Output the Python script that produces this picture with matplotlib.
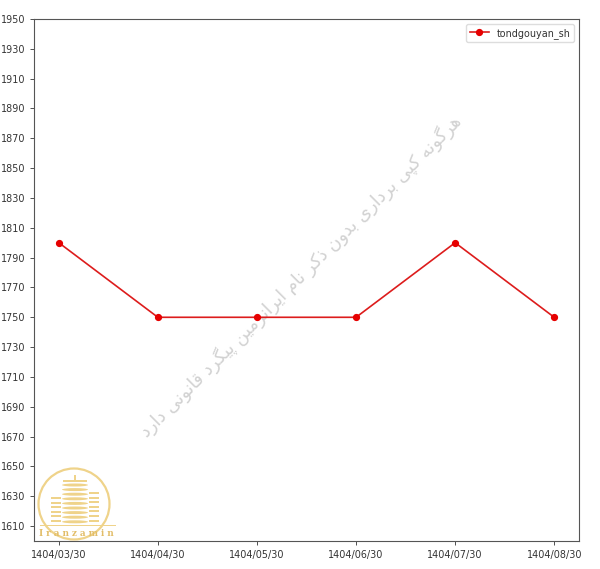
import matplotlib
matplotlib.use("Agg")
import matplotlib.pyplot as plt
from matplotlib.patches import Circle, Rectangle, Ellipse

dates = ["1404/03/30", "1404/04/30", "1404/05/30", "1404/06/30", "1404/07/30", "1404/08/30"]
prices = [1800, 1750, 1750, 1750, 1800, 1750]
series_name = "tondgouyan_sh"
yticks = list(range(1610, 1951, 20))
watermark = "هرگونه کپی برداری بدون ذکر نام ایرانزمین پیگرد قانونی دارد"
logo_text = "Iranzamin"

# minimal Persian shaping (presentation forms) since matplotlib has no shaping
FORMS = {
    "ا": (0xFE8D, 0xFE8E, None, None),
    "ب": (0xFE8F, 0xFE90, 0xFE91, 0xFE92),
    "پ": (0xFB56, 0xFB57, 0xFB58, 0xFB59),
    "د": (0xFEA9, 0xFEAA, None, None),
    "ذ": (0xFEAB, 0xFEAC, None, None),
    "ر": (0xFEAD, 0xFEAE, None, None),
    "ز": (0xFEAF, 0xFEB0, None, None),
    "ق": (0xFED5, 0xFED6, 0xFED7, 0xFED8),
    "ک": (0xFB8E, 0xFB8F, 0xFB90, 0xFB91),
    "گ": (0xFB92, 0xFB93, 0xFB94, 0xFB95),
    "م": (0xFEE1, 0xFEE2, 0xFEE3, 0xFEE4),
    "ن": (0xFEE5, 0xFEE6, 0xFEE7, 0xFEE8),
    "و": (0xFEED, 0xFEEE, None, None),
    "ه": (0xFEE9, 0xFEEA, 0xFEEB, 0xFEEC),
    "ی": (0xFBFC, 0xFBFD, 0xFBFE, 0xFBFF),
}


def dual(c):
    return c in FORMS and FORMS[c][2] is not None


def shape(s):
    out = []
    for i, c in enumerate(s):
        if c not in FORMS:
            out.append(c)
            continue
        prev = s[i - 1] if i > 0 else " "
        nxt = s[i + 1] if i + 1 < len(s) else " "
        cp = dual(prev)
        cn = dual(c) and nxt in FORMS
        iso, fin, ini, med = FORMS[c]
        if cp and cn:
            code = med
        elif cp:
            code = fin
        elif cn:
            code = ini
        else:
            code = iso
        out.append(chr(code))
    return "".join(out)[::-1]


W, H = 600, 569
fig = plt.figure(figsize=(6.0, 5.69), dpi=100)
ax = fig.add_axes([0.0567, 0.0492, 0.9083, 0.9174])

x = list(range(len(dates)))
ax.plot(x, prices, color="#dd1c1c", marker="o", markersize=4.2, markerfacecolor="#e60000",
        markeredgecolor="#e60000", linewidth=1.2, label=series_name)
ax.set_xticks(x)
ax.set_xticklabels(dates)
ax.set_yticks(yticks)
ax.set_ylim(1600, 1950)
ax.tick_params(labelsize=6.9, colors="#333333", length=3, width=0.6)
for sp in ax.spines.values():
    sp.set_color("#555555")
    sp.set_linewidth(0.8)

leg = ax.legend(loc="upper right", fontsize=6.9, frameon=True, framealpha=1, edgecolor="#dddddd",
                fancybox=True, handlelength=2.0)
for t in leg.get_texts():
    t.set_color("#333333")

# watermark
ax.text(0.488, 0.508, shape(watermark), transform=ax.transAxes, rotation=45,
        ha="center", va="center", fontsize=12.8, color="#d2d2d2",
        family=["DejaVu Sans"], zorder=0)

# logo approximation (pixel coordinates, y from top)
gold = "#efd38a"


def px(xp, yp):
    return xp, H - yp


fig.patches.append(Circle(px(74, 504), 35.5, transform=None, fill=False,
                          edgecolor=gold, linewidth=1.6))
# central tower stripes
for k in range(9):
    yy = 485 + k * 4.6
    fig.patches.append(Ellipse(px(75, yy), 26, 3.0, transform=None,
                               facecolor=gold, edgecolor="none"))
# side towers
for k in range(6):
    yy = 499 + k * 4.6
    fig.patches.append(Rectangle(px(51, yy), 10, 2.0, transform=None,
                                 facecolor=gold, edgecolor="none"))
for k in range(7):
    yy = 494 + k * 4.6
    fig.patches.append(Rectangle(px(89, yy), 10, 2.0, transform=None,
                                 facecolor=gold, edgecolor="none"))
# roof ornament
fig.patches.append(Rectangle(px(63, 482), 24, 1.6, transform=None, facecolor=gold, edgecolor="none"))
fig.patches.append(Rectangle(px(74, 482), 2, 7, transform=None, facecolor=gold, edgecolor="none"))
# base swoosh
fig.patches.append(Rectangle(px(40, 526), 76, 1.4, transform=None, facecolor=gold, edgecolor="none"))
fig.text(76 / W, 1 - 534 / H, " ".join(logo_text), ha="center", va="center",
         fontsize=6.3, color="#e2bd68", family="DejaVu Serif", fontweight="bold")

fig.savefig("out.png", dpi=100)
